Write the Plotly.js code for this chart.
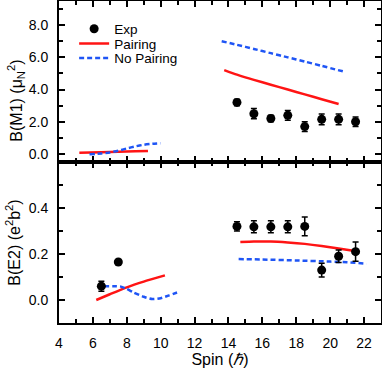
<!DOCTYPE html>
<html>
<head>
<meta charset="utf-8">
<script src="https://cdn.plot.ly/plotly-3.0.1.min.js"></script>
<style>
	html, body { margin: 0; padding: 0; background: white; }
	#chart { width: 382px; height: 371px; }
</style>
</head>
<body>
<div id="chart"></div>
<script>
// experimental spins (half-integer)
var spinLow = [6.5, 7.5];
var spinHigh = [14.5, 15.5, 16.5, 17.5, 18.5, 19.5, 20.5, 21.5];

// B(M1) experiment
var m1Exp = [3.2, 2.5, 2.2, 2.4, 1.7, 2.15, 2.15, 2.0];
var m1ExpErr = [0.2, 0.32, 0.2, 0.3, 0.3, 0.33, 0.33, 0.3];

// B(M1) theory
var m1PairLowX = [5.2, 6.5, 7.5, 8.5, 9.25];
var m1PairLowY = [0.07, 0.1, 0.13, 0.16, 0.19];
var m1NoPairLowX = [5.8, 6.5, 7.0, 7.5, 8.0, 8.5, 9.0, 9.5, 10.0];
var m1NoPairLowY = [-0.02, 0.03, 0.09, 0.2, 0.34, 0.47, 0.57, 0.63, 0.67];
var m1PairHighX = [13.75, 14.5, 15.5, 16.5, 17.5, 18.5, 19.5, 20.5];
var m1PairHighY = [5.21, 4.93, 4.6, 4.3, 4.0, 3.7, 3.4, 3.1];
var m1NoPairHighX = [13.6, 14.5, 15.5, 16.5, 17.5, 18.5, 19.5, 20.9];
var m1NoPairHighY = [7.0, 6.78, 6.52, 6.26, 6.0, 5.74, 5.47, 5.09];

// B(E2) experiment
var e2ExpLow = [0.06, 0.165];
var e2ExpLowErr = [0.022, 0.008];
var e2Exp = [0.32, 0.318, 0.318, 0.318, 0.32, 0.13, 0.19, 0.21];
var e2ExpErr = [0.02, 0.026, 0.026, 0.026, 0.041, 0.03, 0.027, 0.042];

// B(E2) theory
var e2PairLowX = [6.2, 7, 8, 9, 10.25];
var e2PairLowY = [0.0, 0.025, 0.055, 0.08, 0.107];
var e2NoPairLowX = [6.65, 7.2, 7.65, 8.0, 8.4, 9.0, 9.5, 10.0, 10.5, 11.1];
var e2NoPairLowY = [0.06, 0.06, 0.058, 0.048, 0.033, 0.014, 0.004, 0.008, 0.02, 0.036];
var e2PairHighX = [14.7, 15.5, 16.5, 17.5, 18.5, 19.5, 20.5, 21.55];
var e2PairHighY = [0.252, 0.254, 0.254, 0.25, 0.244, 0.235, 0.224, 0.212];
var e2NoPairHighX = [14.6, 16, 18, 20, 21, 22.15];
var e2NoPairHighY = [0.178, 0.176, 0.172, 0.167, 0.164, 0.158];

var RED = '#ff1414';
var BLUE = '#1f55f5';
var FONT = 'Liberation Sans, Arial, sans-serif';

function expTrace(x, y, err, xa, ya, name, leg) {
	return {
		x: x, y: y, xaxis: xa, yaxis: ya, name: name, showlegend: !!leg, legend: leg || 'legend',
		type: 'scatter', mode: 'markers',
		marker: { color: 'black', size: 9 },
		error_y: { type: 'data', array: err, color: 'black', thickness: 1.5, width: 3 }
	};
}

function lineTrace(x, y, xa, ya, name, leg, dashed) {
	return {
		x: x, y: y, xaxis: xa, yaxis: ya, name: name, showlegend: !!leg, legend: leg || 'legend',
		type: 'scatter', mode: 'lines',
		line: { color: dashed ? BLUE : RED, width: 2.5, dash: dashed ? '5px,3px' : 'solid', shape: 'spline', smoothing: 0.6 }
	};
}

var data = [
	expTrace(spinHigh, m1Exp, m1ExpErr, 'x', 'y', 'Exp', 'legend'),
	lineTrace(m1PairLowX, m1PairLowY, 'x', 'y', 'Pairing', 'legend2', false),
	lineTrace(m1NoPairLowX, m1NoPairLowY, 'x', 'y', 'No Pairing', 'legend3', true),
	lineTrace(m1PairHighX, m1PairHighY, 'x', 'y', 'Pairing', null, false),
	lineTrace(m1NoPairHighX, m1NoPairHighY, 'x', 'y', 'No Pairing', null, true),
	lineTrace(e2PairLowX, e2PairLowY, 'x2', 'y2', 'Pairing', null, false),
	lineTrace(e2NoPairLowX, e2NoPairLowY, 'x2', 'y2', 'No Pairing', null, true),
	lineTrace(e2PairHighX, e2PairHighY, 'x2', 'y2', 'Pairing', null, false),
	lineTrace(e2NoPairHighX, e2NoPairHighY, 'x2', 'y2', 'No Pairing', null, true),
	expTrace(spinLow, e2ExpLow, e2ExpLowErr, 'x2', 'y2', 'Exp', null),
	expTrace(spinHigh, e2Exp, e2ExpErr, 'x2', 'y2', 'Exp', null)
];

// shared axis look: black frame, ticks inside on all sides
function axisStyle(extra) {
	var a = {
		showline: true, linecolor: 'black', linewidth: 2, mirror: 'ticks',
		ticks: 'inside', ticklen: 6, tickwidth: 2, tickcolor: 'black',
		showgrid: false, zeroline: false, ticklabelstandoff: 6,
		tickfont: { family: FONT, size: 14, color: 'black' }
	};
	for (var k in extra) a[k] = extra[k];
	return a;
}

function minorTicks(step) {
	return { ticks: 'inside', ticklen: 4, tickwidth: 2, tickcolor: 'black', dtick: step, showgrid: false };
}

// one legend per row so the rows sit as close as in the original
function legendAt(y) {
	return {
		x: 0.047, y: y, xanchor: 'left', yanchor: 'middle',
		bgcolor: 'rgba(0,0,0,0)', borderwidth: 0,
		font: { family: FONT, size: 13.5, color: 'black' }
	};
}

var titleFont = { family: FONT, size: 16, color: 'black' };

var layout = {
	width: 382, height: 371,
	margin: { l: 59, r: 1, t: 1, b: 48 },
	paper_bgcolor: 'white', plot_bgcolor: 'white',
	font: { family: FONT, color: 'black' },
	showlegend: true,
	legend: legendAt(0.913),
	legend2: legendAt(0.867),
	legend3: legendAt(0.822),
	xaxis: axisStyle({
		anchor: 'y', range: [4, 23], dtick: 2, showticklabels: false,
		minor: minorTicks(1)
	}),
	xaxis2: axisStyle({
		anchor: 'y2', matches: 'x', range: [4, 23], dtick: 2,
		minor: minorTicks(1),
		title: { text: 'Spin (<i>\u210F</i>)', font: titleFont, standoff: 4 }
	}),
	yaxis: axisStyle({
		domain: [0.5, 1], range: [-0.5, 9.5], dtick: 2, tickformat: '.1f',
		minor: minorTicks(1)
	}),
	yaxis2: axisStyle({
		domain: [0, 0.5], range: [-0.1, 0.5999], dtick: 0.2, tickformat: '.1f',
		minor: minorTicks(0.1),
		title: { text: 'B(E2) (e<sup>2</sup>b<sup>2</sup>)', font: titleFont, standoff: 4 }
	}),
	// the upper title sits lower than the panel centre in the original
	annotations: [{
		text: 'B(M1) (\u03BC<sub>N</sub><sup>2</sup>)', textangle: -90,
		xref: 'paper', yref: 'paper', x: -0.134, y: 0.69,
		xanchor: 'center', yanchor: 'middle', showarrow: false, font: titleFont
	}]
};

Plotly.newPlot('chart', data, layout, { staticPlot: true, displayModeBar: false });
</script>
</body>
</html>
